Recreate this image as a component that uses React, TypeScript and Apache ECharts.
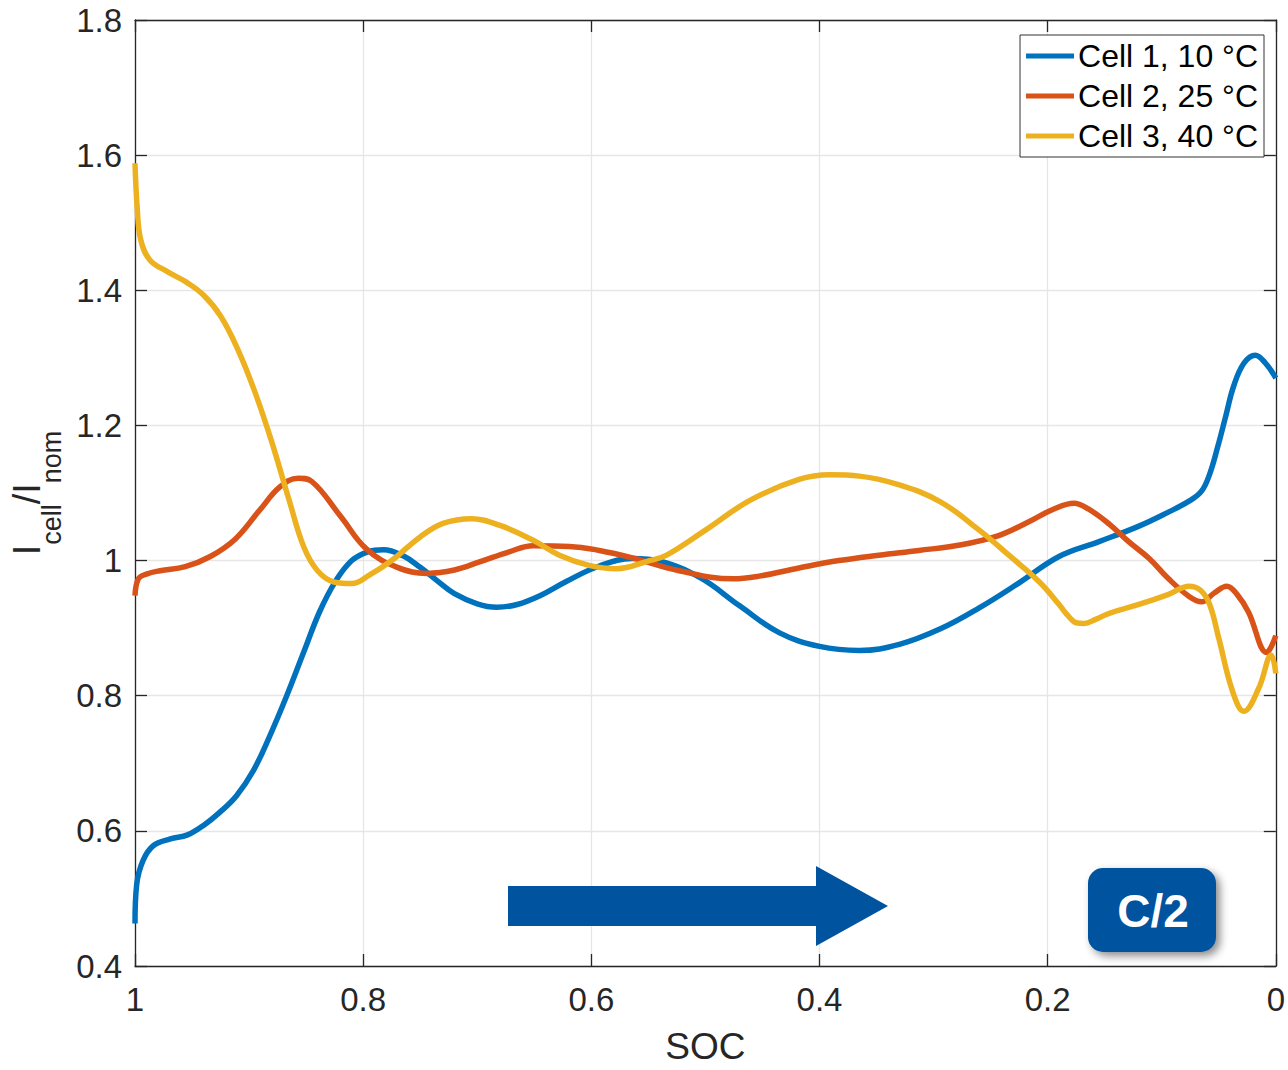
import React, { useEffect, useRef } from "react";
import * as echarts from "echarts";

// SOC (x) and normalized current Icell/Inom (y) for each cell
const cell1Soc = [1, 0.9985, 0.993, 0.984, 0.969, 0.954, 0.94, 0.926, 0.911, 0.896, 0.882, 0.867, 0.852, 0.838, 0.824, 0.81, 0.796, 0.782, 0.765, 0.75, 0.735, 0.72, 0.7, 0.683, 0.665, 0.645, 0.622, 0.593, 0.564, 0.54, 0.505, 0.47, 0.435, 0.4, 0.365, 0.33, 0.294, 0.26, 0.225, 0.19, 0.155, 0.12, 0.095, 0.075, 0.065, 0.058, 0.051, 0.044, 0.037, 0.028, 0.018, 0.009, 0];
const cell1Val = [0.463, 0.521, 0.556, 0.578, 0.588, 0.594, 0.608, 0.627, 0.652, 0.69, 0.74, 0.8, 0.865, 0.925, 0.97, 1.0, 1.013, 1.016, 1.007, 0.99, 0.97, 0.951, 0.936, 0.931, 0.935, 0.948, 0.969, 0.992, 1.003, 0.999, 0.975, 0.933, 0.893, 0.873, 0.867, 0.876, 0.899, 0.93, 0.967, 1.006, 1.028, 1.051, 1.071, 1.089, 1.103, 1.128, 1.168, 1.213, 1.258, 1.292, 1.304, 1.292, 1.27];

const cell2Soc = [1, 0.997, 0.99, 0.978, 0.956, 0.934, 0.912, 0.891, 0.873, 0.857, 0.845, 0.82, 0.797, 0.77, 0.744, 0.72, 0.698, 0.672, 0.651, 0.619, 0.593, 0.564, 0.523, 0.476, 0.453, 0.418, 0.383, 0.348, 0.313, 0.277, 0.243, 0.217, 0.195, 0.177, 0.164, 0.146, 0.129, 0.111, 0.094, 0.076, 0.065, 0.054, 0.043, 0.034, 0.024, 0.008, 0];
const cell2Val = [0.948, 0.973, 0.98, 0.985, 0.991, 1.006, 1.032, 1.074, 1.109, 1.122, 1.117, 1.066, 1.017, 0.99, 0.981, 0.986, 0.998, 1.013, 1.022, 1.021, 1.015, 1.004, 0.985, 0.973, 0.977, 0.989, 1.0, 1.008, 1.015, 1.023, 1.037, 1.057, 1.076, 1.085, 1.076, 1.054, 1.028, 1.003, 0.973, 0.947, 0.939, 0.952, 0.962, 0.95, 0.924, 0.864, 0.889];

const cell3Soc = [1, 0.998, 0.995, 0.987, 0.972, 0.955, 0.94, 0.925, 0.91, 0.895, 0.88, 0.865, 0.852, 0.84, 0.825, 0.81, 0.795, 0.775, 0.75, 0.73, 0.705, 0.68, 0.651, 0.628, 0.602, 0.578, 0.549, 0.534, 0.5, 0.461, 0.418, 0.391, 0.365, 0.33, 0.294, 0.26, 0.234, 0.207, 0.19, 0.182, 0.175, 0.168, 0.158, 0.146, 0.12, 0.094, 0.076, 0.066, 0.058, 0.05, 0.038, 0.028, 0.015, 0.004, 0];
const cell3Val = [1.588, 1.52, 1.475, 1.445, 1.428, 1.412, 1.393, 1.362, 1.313, 1.25, 1.175, 1.09, 1.02, 0.985, 0.968, 0.966, 0.978, 1.0, 1.035, 1.055, 1.062, 1.052, 1.03, 1.008, 0.993, 0.988, 1.0, 1.008, 1.045, 1.089, 1.12, 1.127, 1.125, 1.112, 1.087, 1.045, 1.008, 0.968, 0.935, 0.918, 0.908, 0.907, 0.913, 0.922, 0.935, 0.95, 0.962, 0.956, 0.935, 0.885, 0.807, 0.777, 0.811, 0.86, 0.833];

const seriesNames = ["Cell 1, 10 °C", "Cell 2, 25 °C", "Cell 3, 40 °C"];
const seriesColors = ["#0072bd", "#d95319", "#edb120"];

const xTicks = { min: 0, max: 1, step: 0.2 };
const yTicks = { min: 0.4, max: 1.8, step: 0.2 };

const FONT = "'Liberation Sans', Arial, Helvetica, sans-serif";
const INK = "#262626";
const BADGE = "#00539f";

function pairs(xs: number[], ys: number[]) {
  return xs.map((x, i) => [x, ys[i]]);
}

export default function App() {
  const ref = useRef<HTMLDivElement>(null);

  useEffect(() => {
    if (!ref.current) return;
    const chart = echarts.init(ref.current, null, { renderer: "svg" });

    const axisCommon = {
      type: "value" as const,
      axisLine: { show: true, onZero: false, lineStyle: { color: INK, width: 1.3 } },
      axisTick: { show: true, inside: true, length: 12, lineStyle: { color: INK, width: 1.3 } },
      splitLine: { show: false },
    };

    const data = [pairs(cell1Soc, cell1Val), pairs(cell2Soc, cell2Val), pairs(cell3Soc, cell3Val)];

    chart.setOption({
      animation: false,
      backgroundColor: "#ffffff",
      grid: { left: 135, right: 11, top: 20, bottom: 101, containLabel: false },
      legend: {
        data: seriesNames,
        orient: "vertical",
        right: 24,
        top: 35,
        backgroundColor: "#ffffff",
        borderColor: "#333333",
        borderWidth: 1,
        padding: [4, 6, 4, 6],
        itemGap: 6,
        itemWidth: 48,
        itemHeight: 5,
        icon: "rect",
        textStyle: { fontFamily: FONT, fontSize: 32, lineHeight: 34, color: "#000000", padding: [0, 0, 0, -1] },
      },
      xAxis: [
        {
          ...axisCommon,
          position: "bottom",
          min: xTicks.min,
          max: xTicks.max,
          interval: xTicks.step,
          inverse: true,
          name: "SOC",
          nameLocation: "middle",
          nameGap: 62,
          nameTextStyle: { fontFamily: FONT, fontSize: 37, color: INK },
          axisLabel: { show: true, margin: 17, fontFamily: FONT, fontSize: 33, color: INK },
          splitLine: { show: true, lineStyle: { color: "#e6e6e6", width: 1.3 } },
        },
        {
          ...axisCommon,
          position: "top",
          min: xTicks.min,
          max: xTicks.max,
          interval: xTicks.step,
          inverse: true,
          axisLabel: { show: false },
        },
      ],
      yAxis: [
        {
          ...axisCommon,
          position: "left",
          min: yTicks.min,
          max: yTicks.max,
          interval: yTicks.step,
          name: "{m|I}{s|cell}{m|/I}{s|nom}",
          nameLocation: "middle",
          nameRotate: 90,
          nameGap: 66,
          nameTextStyle: {
            fontFamily: FONT,
            color: INK,
            rich: {
              m: { fontFamily: FONT, fontSize: 38, lineHeight: 38, color: INK, verticalAlign: "top" },
              s: { fontFamily: FONT, fontSize: 27, lineHeight: 27, color: INK, verticalAlign: "top", padding: [30, 0, 0, 0] },
            },
          },
          axisLabel: { show: true, margin: 13, fontFamily: FONT, fontSize: 33, color: INK },
          splitLine: { show: true, lineStyle: { color: "#e6e6e6", width: 1.3 } },
        },
        {
          ...axisCommon,
          position: "right",
          min: yTicks.min,
          max: yTicks.max,
          interval: yTicks.step,
          axisLabel: { show: false },
        },
      ],
      series: seriesNames.map((name, i) => ({
        name,
        type: "line",
        data: data[i],
        xAxisIndex: 0,
        yAxisIndex: 0,
        showSymbol: false,
        smooth: 0.4,
        color: seriesColors[i],
        lineStyle: { color: seriesColors[i], width: 5.5 },
        z: 3,
      })),
      graphic: [
        {
          type: "polygon",
          z: 10,
          shape: {
            points: [
              [508, 886],
              [816, 886],
              [816, 866],
              [888, 906],
              [816, 946],
              [816, 926],
              [508, 926],
            ],
          },
          style: { fill: BADGE },
        },
        {
          type: "rect",
          z: 10,
          shape: { x: 1088, y: 868, width: 128, height: 84, r: 15 },
          style: {
            fill: BADGE,
            shadowBlur: 8,
            shadowOffsetX: 4,
            shadowOffsetY: 4,
            shadowColor: "rgba(0,0,0,0.45)",
          },
        },
        {
          type: "text",
          z: 11,
          x: 1153,
          y: 911,
          style: {
            text: "C/2",
            fill: "#ffffff",
            font: `bold 46px ${FONT}`,
            align: "center",
            verticalAlign: "middle",
          },
        },
      ],
    });

    return () => chart.dispose();
  }, []);

  return (
    <div
      ref={ref}
      style={{ position: "fixed", left: 0, top: 0, width: 1288, height: 1070, background: "#fff" }}
    />
  );
}
